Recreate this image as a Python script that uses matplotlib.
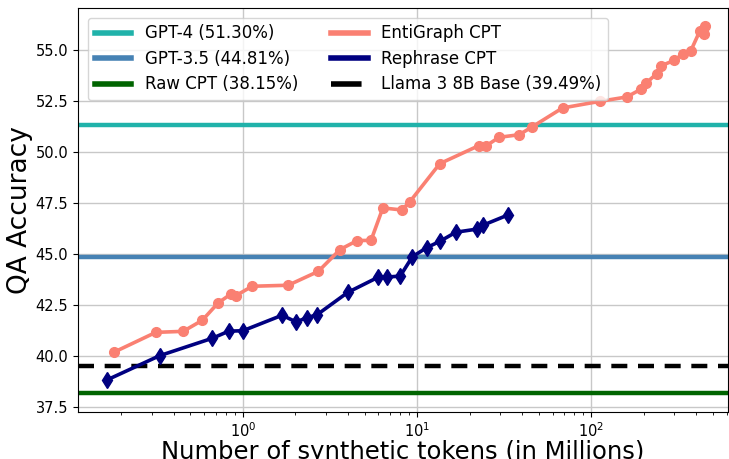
import matplotlib
matplotlib.use('Agg')
import matplotlib.pyplot as plt
from matplotlib.lines import Line2D

# EntiGraph CPT (tokens in millions, QA accuracy)
enti_x = [0.181, 0.316, 0.454, 0.584, 0.72, 0.853, 0.911, 1.13, 1.82, 2.71,
          3.61, 4.53, 5.44, 6.36, 8.17, 9.1, 13.5, 22.7, 24.9, 29.5,
          38.6, 45.5, 68.4, 113, 160, 194, 207, 237, 250, 299,
          337, 372, 421, 445, 450]
enti_y = [40.16, 41.14, 41.19, 41.73, 42.58, 43.02, 42.94, 43.4, 43.45, 44.13,
          45.2, 45.64, 45.65, 47.24, 47.14, 47.55, 49.41, 50.3, 50.28, 50.7,
          50.83, 51.2, 52.14, 52.47, 52.68, 53.07, 53.37, 53.81, 54.2, 54.47,
          54.8, 54.92, 55.93, 55.75, 56.14]

# Rephrase CPT
reph_x = [0.165, 0.333, 0.667, 0.83, 1.0, 1.68, 2.02, 2.33, 2.66, 4.0,
          6.0, 6.7, 8.0, 9.4, 11.4, 13.5, 16.7, 22.0, 24.0, 33.4]
reph_y = [38.8, 40.0, 40.85, 41.2, 41.22, 41.98, 41.65, 41.86, 42.0, 43.1,
          43.85, 43.85, 43.9, 44.85, 45.3, 45.6, 46.05, 46.2, 46.4, 46.9]

# reference levels
gpt4 = 51.30
gpt35 = 44.81
raw_cpt = 38.15
llama_base = 39.49

fig = plt.figure(figsize=(7.29, 4.59), dpi=100)
ax = fig.add_axes([0.107, 0.103, 0.892, 0.880])

dash = (0, (3.6, 2.4))
ax.axhline(gpt4, color='lightseagreen', lw=3.2)
ax.axhline(gpt35, color='steelblue', lw=3.2)
ax.axhline(raw_cpt, color='darkgreen', lw=3.2)
ax.axhline(llama_base, color='black', lw=3.2, linestyle=dash)

ax.plot(enti_x, enti_y, color='salmon', lw=2.6, marker='o', markersize=7)
ax.plot(reph_x, reph_y, color='navy', lw=2.6, marker='d', markersize=8)

ax.set_xscale('log')
ax.set_xlim(0.113, 612)
ax.set_ylim(37.25, 57.05)
ax.grid(True, which='major', color='#c8c8c8', lw=1)
ax.set_axisbelow(True)
ax.tick_params(labelsize=10.5)

ax.set_xlabel('Number of synthetic tokens (in Millions)', fontsize=17.5, labelpad=0)
ax.set_ylabel('QA Accuracy', fontsize=19, labelpad=2)

handles = [
    Line2D([], [], color='lightseagreen', lw=4, label='GPT-4 (51.30%)'),
    Line2D([], [], color='steelblue', lw=4, label='GPT-3.5 (44.81%)'),
    Line2D([], [], color='darkgreen', lw=4, label='Raw CPT (38.15%)'),
    Line2D([], [], color='salmon', lw=4, label='EntiGraph CPT'),
    Line2D([], [], color='navy', lw=4, label='Rephrase CPT'),
    Line2D([], [], color='black', lw=4, linestyle=(0, (5.5, 1.5)), label='Llama 3 8B Base (39.49%)'),
]
ax.legend(handles=handles, loc='upper left', ncol=2, fontsize=12,
          columnspacing=2.0, handlelength=2.2, labelspacing=0.45,
          borderaxespad=0.6)

plt.savefig('out.png', dpi=100)
